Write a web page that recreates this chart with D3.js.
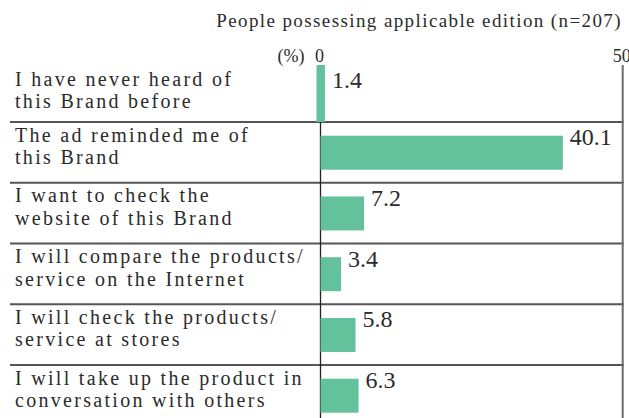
<!DOCTYPE html>
<html>
<head>
<meta charset="utf-8">
<script src="https://cdn.jsdelivr.net/npm/d3@7"></script>
<style>
  html, body { margin: 0; padding: 0; background: #fff; }
  svg { display: block; }
  text { font-family: "Liberation Serif", "Times New Roman", serif; fill: #2b2b2b; }
</style>
</head>
<body>
<svg id="chart" width="629" height="418"></svg>
<script>
// Responses among people possessing the applicable edition (n=207), in %
const categories = [
  ["I have never heard of", "this Brand before"],
  ["The ad reminded me of", "this Brand"],
  ["I want to check the", "website of this Brand"],
  ["I will compare the products/", "service on the Internet"],
  ["I will check the products/", "service at stores"],
  ["I will take up the product in", "conversation with others"]
];
const values = [1.4, 40.1, 7.2, 3.4, 5.8, 6.3];
const tickValues = [0, 50];
const subtitle = "People possessing applicable edition (n=207)";
const unitLabel = "(%)";

const W = 629, H = 418;
const svg = d3.select("#chart");
const barColor = "#63c29b";

const x = d3.scaleLinear().domain([0, 50]).range([320.5, 622.7]);
const y = d3.scaleBand()
  .domain(d3.range(categories.length))
  .range([61.25, 61.25 + 60.75 * categories.length])
  .paddingInner(0).paddingOuter(0);

// subtitle
svg.append("text")
  .attr("x", 622).attr("y", 27)
  .attr("text-anchor", "end")
  .style("font-size", "19px")
  .style("letter-spacing", "1.4px")
  .text(subtitle);

// axis labels along the top
const axis = d3.axisTop(x).tickValues(tickValues).tickSize(0).tickPadding(0)
  .tickFormat(d3.format("d"));
const gAxis = svg.append("g").attr("transform", "translate(0,62)").call(axis);
gAxis.select(".domain").remove();
gAxis.selectAll("text")
  .attr("dy", 0)
  .attr("dx", -1.5)
  .style("font-family", '"Liberation Serif", serif')
  .style("font-size", "18px")
  .attr("fill", "#3a3a3a");

svg.append("text")
  .attr("x", x(0) - 16).attr("y", 62)
  .attr("text-anchor", "end")
  .style("font-size", "18px")
  .attr("fill", "#3a3a3a")
  .text(unitLabel);

// row separators
svg.append("g").selectAll("line")
  .data(d3.range(categories.length))
  .join("line")
  .attr("x1", 10).attr("x2", x(50) + 1)
  .attr("y1", i => y(i) + y.bandwidth())
  .attr("y2", i => y(i) + y.bandwidth())
  .attr("stroke", "#555").attr("stroke-width", 2);

// right frame at 50
svg.append("line")
  .attr("x1", x(50)).attr("x2", x(50))
  .attr("y1", 65).attr("y2", H)
  .attr("stroke", "#6a6a6a").attr("stroke-width", 2);

// zero line (starts below the first row)
svg.append("line")
  .attr("x1", x(0)).attr("x2", x(0))
  .attr("y1", y(1)).attr("y2", H)
  .attr("stroke", "#222").attr("stroke-width", 1.3);

// the first row's bar hangs from the axis labels down to its separator
const barY = i => i === 0 ? y(0) + 3.75 : y(i) + 13.7;
const barH = i => i === 0 ? y.bandwidth() - 3.75 : 34;
const barX0 = i => i === 0 ? x(0) - 4 : x(0);

svg.append("g").selectAll("rect")
  .data(values)
  .join("rect")
  .attr("x", (d, i) => barX0(i))
  .attr("y", (d, i) => barY(i))
  .attr("width", d => x(d) - x(0))
  .attr("height", (d, i) => barH(i))
  .attr("fill", barColor);

// value labels
svg.append("g").selectAll("text")
  .data(values)
  .join("text")
  .attr("x", (d, i) => barX0(i) + x(d) - x(0) + 7)
  .attr("y", (d, i) => y(i) + (i === 0 ? 26.5 : 23))
  .style("font-size", "24px")
  .attr("fill", "#2a2a2a")
  .text(d => d3.format(".1f")(d));

// category labels, two lines each
const lab = svg.append("g").selectAll("text")
  .data(categories)
  .join("text")
  .attr("x", 15)
  .attr("y", (d, i) => y(i) + (i === 0 ? 24.5 : 19.5))
  .style("font-size", "20px")
  .style("letter-spacing", "2.3px");
lab.selectAll("tspan")
  .data(d => d)
  .join("tspan")
  .attr("x", 15)
  .attr("dy", (d, j) => j === 0 ? 0 : 22.5)
  .text(d => d);
</script>
</body>
</html>
